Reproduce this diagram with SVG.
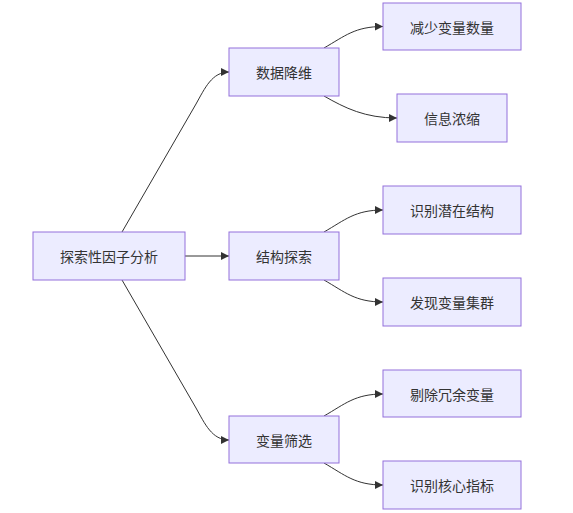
<svg xmlns="http://www.w3.org/2000/svg" width="573" height="513" viewBox="0 0 573 513">
<style>
.node rect{fill:#ECECFF;stroke:#9370DB;stroke-width:1}
.node text{font-family:"Noto Sans CJK SC","Noto Sans",sans-serif;font-size:14px;fill:#333;text-anchor:middle;dominant-baseline:central}
.edge{fill:none;stroke:#333;stroke-width:1;marker-end:url(#arrow)}
</style>
<defs>
<marker id="arrow" viewBox="0 0 10 10" refX="10" refY="5" markerWidth="8" markerHeight="8" markerUnits="userSpaceOnUse" orient="auto">
<path d="M0,0 L10,5 L0,10 z" fill="#333"/>
</marker>
</defs>
<rect width="573" height="513" fill="#fff"/>
<g id="connectors">
<path class="edge" d="M122,232 L196,104 C205,88 212,72 229,72"/>
<path class="edge" d="M185,256 L229,256"/>
<path class="edge" d="M122,280 L196,408 C205,424 212,440 229,440"/>
<path class="edge" d="M324,48 C345,36 355,26.5 383,26.5"/>
<path class="edge" d="M324,96 C345,108 365,118 397,118"/>
<path class="edge" d="M324,232 C345,220 355,210 383,210"/>
<path class="edge" d="M324,280 C345,292 355,302 383,302"/>
<path class="edge" d="M324,416 C345,404 355,394 383,394"/>
<path class="edge" d="M324,463 C345,475 355,485 383,485"/>
</g>
<g id="root" class="node"><rect x="33" y="232" width="152" height="48"/><text x="109" y="256">探索性因子分析</text></g>
<g id="n1" class="node"><rect x="229" y="48" width="110" height="48"/><text x="284" y="72">数据降维</text></g>
<g id="n2" class="node"><rect x="229" y="232" width="110" height="48"/><text x="284" y="256">结构探索</text></g>
<g id="n3" class="node"><rect x="229" y="416" width="110" height="47"/><text x="284" y="439.5">变量筛选</text></g>
<g id="n1a" class="node"><rect x="383" y="3" width="138" height="47"/><text x="452" y="26.5">减少变量数量</text></g>
<g id="n1b" class="node"><rect x="397" y="94" width="110" height="48"/><text x="452" y="118">信息浓缩</text></g>
<g id="n2a" class="node"><rect x="383" y="186" width="138" height="48"/><text x="452" y="210">识别潜在结构</text></g>
<g id="n2b" class="node"><rect x="383" y="278" width="138" height="48"/><text x="452" y="302">发现变量集群</text></g>
<g id="n3a" class="node"><rect x="383" y="370" width="138" height="47"/><text x="452" y="393.5">剔除冗余变量</text></g>
<g id="n3b" class="node"><rect x="383" y="461" width="138" height="48"/><text x="452" y="485">识别核心指标</text></g>
</svg>
